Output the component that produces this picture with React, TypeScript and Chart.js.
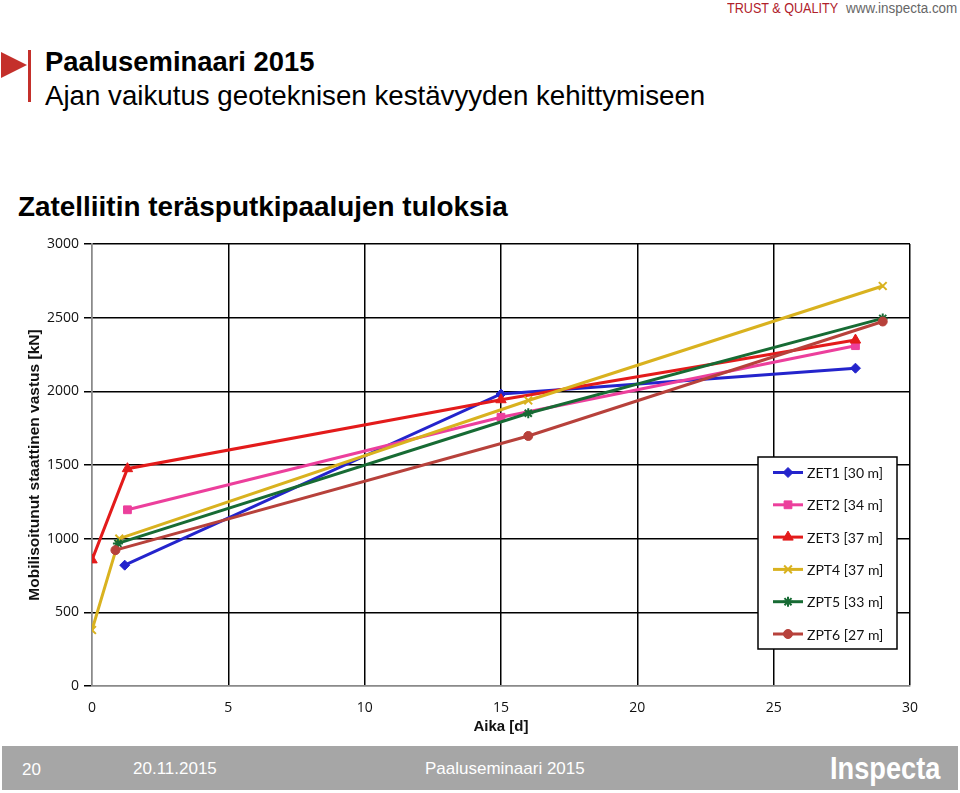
import React, { useEffect, useRef } from "react";
import { Chart, registerables, PointElement } from "chart.js";

Chart.register(...registerables);

// ---- data ----
const seriesNames = ["ZET1 [30 m]", "ZET2 [34 m]", "ZET3 [37 m]", "ZPT4 [37 m]", "ZPT5 [33 m]", "ZPT6 [27 m]"];

const zet1Days = [1.2, 15, 28];
const zet1Load = [820, 1982, 2157];

const zet2Days = [1.3, 15, 28];
const zet2Load = [1196, 1824, 2310];

const zet3Days = [0, 1.3, 15, 28];
const zet3Load = [856, 1475, 1943, 2348];

const zpt4Days = [0, 1, 16, 29];
const zpt4Load = [380, 1000, 1938, 2715];

const zpt5Days = [0.95, 16, 29];
const zpt5Load = [968, 1851, 2495];

const zpt6Days = [0.86, 16, 29];
const zpt6Load = [922, 1697, 2474];

const xTicks = [0, 5, 10, 15, 20, 25, 30];
const yTicks = [0, 500, 1000, 1500, 2000, 2500, 3000];

const colors = ["#2424cc", "#ec3f9c", "#e31b1b", "#d9b21f", "#176b34", "#b7413b"];
const pointStyles = ["rectRot", "rect", "triangle", "crossRot", "star", "circle"];
const pointRadii = [5, 5.5, 6, 5.5, 5, 4.5];

const allDays = [zet1Days, zet2Days, zet3Days, zpt4Days, zpt5Days, zpt6Days];
const allLoads = [zet1Load, zet2Load, zet3Load, zpt4Load, zpt5Load, zpt6Load];

const LEGEND_FONT = "Lato, 'Open Sans', sans-serif";
const TICK_FONT = "'Open Sans', Lato, sans-serif";

const legendPlugin = {
  id: "boxLegend",
  afterDatasetsDraw(chart: any) {
    const { ctx, chartArea } = chart;
    const left = chartArea.right - 152;
    const top = chartArea.top + 213;
    const w = 139;
    const h = 192;
    ctx.save();
    ctx.fillStyle = "#ffffff";
    ctx.fillRect(left, top, w, h);
    ctx.strokeStyle = "#000000";
    ctx.lineWidth = 1.5;
    ctx.strokeRect(left, top, w, h);
    chart.data.datasets.forEach((ds: any, i: number) => {
      const y = top + 15.5 + i * 32.3;
      ctx.strokeStyle = ds.borderColor;
      ctx.lineWidth = 3;
      ctx.beginPath();
      ctx.moveTo(left + 15, y);
      ctx.lineTo(left + 45, y);
      ctx.stroke();
      const meta = chart.getDatasetMeta(i);
      const el = meta.data[0];
      if (el) {
        const p: any = new PointElement({ x: left + 30, y, options: el.options } as any);
        p.draw(ctx);
      }
      ctx.fillStyle = "#111";
      ctx.font = `14px ${LEGEND_FONT}`;
      ctx.textBaseline = "middle";
      ctx.textAlign = "left";
      ctx.fillText(ds.label, left + 49, y + 1);
    });
    ctx.restore();
  },
};

export default function App() {
  const canvasRef = useRef<HTMLCanvasElement | null>(null);

  useEffect(() => {
    if (!canvasRef.current) return;
    const datasets = seriesNames.map((name, i) => ({
      label: name,
      data: allDays[i].map((d, j) => ({ x: d, y: allLoads[i][j] })),
      borderColor: colors[i],
      backgroundColor: colors[i],
      pointBackgroundColor: colors[i],
      pointBorderColor: colors[i],
      pointStyle: pointStyles[i],
      pointRadius: pointRadii[i],
      pointBorderWidth: i === 3 || i === 4 ? 2 : 1,
      borderWidth: 3,
      tension: 0,
      order: 6 - i,
    }));

    const chart = new Chart(canvasRef.current, {
      type: "line",
      data: { datasets },
      plugins: [legendPlugin],
      options: {
        animation: false,
        responsive: false,
        layout: { padding: { left: 0, right: 50, top: 14, bottom: 0 } },
        plugins: { legend: { display: false }, tooltip: { enabled: false } },
        scales: {
          x: {
            type: "linear",
            min: 0,
            max: 30,
            afterBuildTicks: (scale: any) => {
              scale.ticks = xTicks.map((v) => ({ value: v }));
            },
            afterFit: (scale: any) => {
              scale.height = 59;
            },
            ticks: {
              color: "#111",
              font: { family: TICK_FONT, size: 14 },
              padding: 14,
              maxRotation: 0,
              callback: (v: any) => String(v),
            },
            grid: {
              color: (c: any) => (c.tick && c.tick.value === 0 ? "#8a8a8a" : "#000000"),
              lineWidth: 1.5,
              drawTicks: false,
            },
            border: { color: "#8a8a8a", width: 1.5 },
            title: {
              display: true,
              text: "Aika [d]",
              color: "#111",
              font: { family: "'Liberation Sans', Arial, sans-serif", size: 15, weight: "bold" },
              padding: { top: 0, bottom: 9 },
            },
          },
          y: {
            type: "linear",
            min: 0,
            max: 3000,
            afterBuildTicks: (scale: any) => {
              scale.ticks = yTicks.map((v) => ({ value: v }));
            },
            afterFit: (scale: any) => {
              scale.width = 92;
            },
            ticks: {
              color: "#111",
              font: { family: TICK_FONT, size: 14 },
              padding: 5,
              callback: (v: any) => String(v),
            },
            grid: {
              color: (c: any) => (c.tick && c.tick.value === 0 ? "#8a8a8a" : "#000000"),
              lineWidth: 1.5,
              tickLength: 8,
              tickColor: "#000000",
            },
            border: { color: "#8a8a8a", width: 1.5 },
            title: {
              display: true,
              text: "Mobilisoitunut staattinen vastus [kN]",
              color: "#111",
              font: { family: "'Liberation Sans', Arial, sans-serif", size: 15.5, weight: "bold" },
              padding: { top: 25, bottom: 0 },
            },
          },
        },
      },
    } as any);
    return () => chart.destroy();
  }, []);

  const arial = "'Liberation Sans', Arial, Helvetica, sans-serif";

  return (
    <div
      style={{
        position: "absolute",
        left: 0,
        top: 0,
        width: 960,
        height: 793,
        background: "#ffffff",
        overflow: "hidden",
        fontFamily: arial,
      }}
    >
      <div
        style={{
          position: "absolute",
          left: 727,
          top: 0,
          fontSize: 14,
          lineHeight: "17px",
          color: "#b0202a",
          whiteSpace: "nowrap",
          transform: "scaleX(0.9)",
          transformOrigin: "left top",
        }}
      >
        TRUST &amp; QUALITY
      </div>
      <div
        style={{
          position: "absolute",
          left: 846,
          top: 0,
          fontSize: 14,
          lineHeight: "17px",
          color: "#666",
          whiteSpace: "nowrap",
          transform: "scaleX(0.96)",
          transformOrigin: "left top",
        }}
      >
        www.inspecta.com
      </div>

      <div
        style={{
          position: "absolute",
          left: 1,
          top: 52,
          width: 0,
          height: 0,
          borderTop: "13.5px solid transparent",
          borderBottom: "13.5px solid transparent",
          borderLeft: "26px solid #c4302b",
        }}
      />
      <div style={{ position: "absolute", left: 28, top: 50, width: 3, height: 52, background: "#c4302b" }} />

      <div style={{ position: "absolute", left: 45, top: 48, fontSize: 27.4, lineHeight: "27.4px", fontWeight: "bold", color: "#000", whiteSpace: "nowrap" }}>
        Paaluseminaari 2015
      </div>
      <div style={{ position: "absolute", left: 45, top: 82, fontSize: 27.7, lineHeight: "27.7px", color: "#000", whiteSpace: "nowrap" }}>
        Ajan vaikutus geoteknisen kestävyyden kehittymiseen
      </div>

      <div style={{ position: "absolute", left: 18, top: 193, fontSize: 27.9, lineHeight: "27.9px", fontWeight: "bold", color: "#000", whiteSpace: "nowrap" }}>
        Zatelliitin teräsputkipaalujen tuloksia
      </div>

      <div style={{ position: "absolute", left: 0, top: 230, width: 960, height: 515 }}>
        <canvas ref={canvasRef} width={960} height={515} style={{ display: "block", width: 960, height: 515 }} />
      </div>

      <div style={{ position: "absolute", left: 2, top: 746, width: 956, height: 44, background: "#a6a6a6" }}>
        <div style={{ position: "absolute", left: 20, top: 14, fontSize: 17, lineHeight: "20px", color: "#fff" }}>20</div>
        <div style={{ position: "absolute", left: 131, top: 13, fontSize: 17, lineHeight: "20px", color: "#fff" }}>20.11.2015</div>
        <div style={{ position: "absolute", left: 423, top: 13, fontSize: 17, lineHeight: "20px", color: "#fff", whiteSpace: "nowrap" }}>
          Paaluseminaari 2015
        </div>
        <div
          style={{
            position: "absolute",
            left: 828,
            top: 6,
            fontSize: 32,
            lineHeight: "32px",
            fontWeight: "bold",
            color: "#fff",
            whiteSpace: "nowrap",
            transform: "scaleX(0.85)",
            transformOrigin: "left top",
          }}
        >
          Inspecta
        </div>
      </div>
    </div>
  );
}
